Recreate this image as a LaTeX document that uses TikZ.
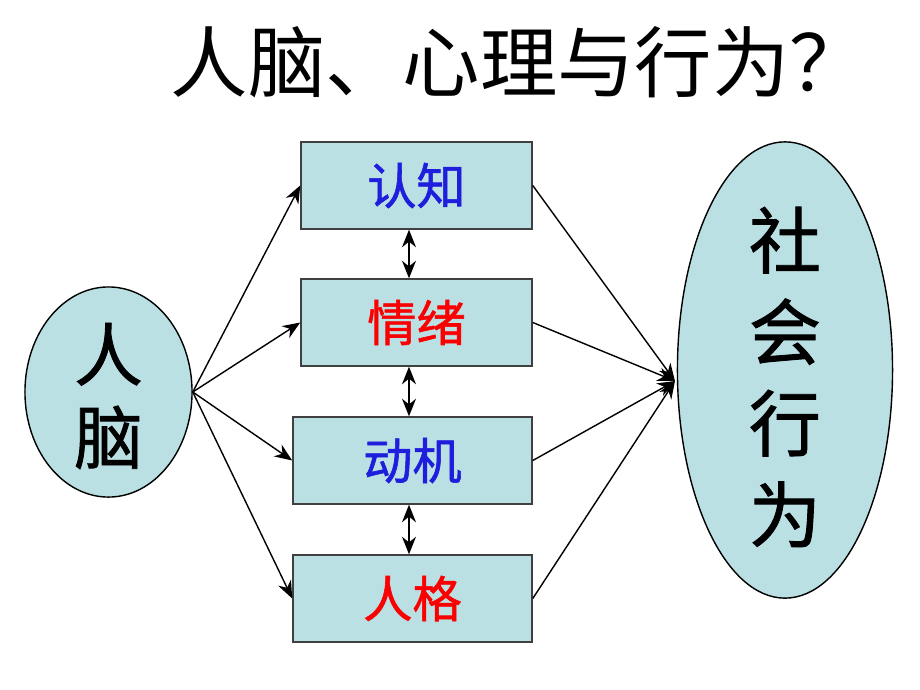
\documentclass[tikz,border=0pt]{standalone}
\usepackage{fontspec}
\newfontfamily\cjk{Noto Sans CJK SC}
\newfontfamily\cjkm[FakeBold=1.2]{Noto Sans CJK SC}
\usetikzlibrary{shapes.geometric,arrows.meta}
\definecolor{boxfill}{RGB}{187,224,227}
\definecolor{txtblue}{RGB}{30,30,220}
\definecolor{txtred}{RGB}{250,0,0}
\tikzset{
  enode/.style = {ellipse, draw=black, fill=boxfill, inner sep=0pt},
  etext/.style = {align=center, inner sep=0pt},
  knode/.style = {rectangle, draw=black!75, fill=boxfill, inner sep=0pt, minimum height=0.87cm, font=\cjkm\fontsize{14}{16}\selectfont},
  conn/.style = {draw=black, line width=0.4pt, -{Stealth[length=5pt,width=4pt]}},
  dconn/.style = {conn, {Stealth[length=5pt,width=4pt]}-{Stealth[length=5pt,width=4pt]}}
}

\begin{document}
\begin{tikzpicture}[x=0.01cm, y=-0.01cm]
\useasboundingbox (0,0) rectangle (920,690);
\node [anchor=west, inner sep=0pt, font=\cjk\fontsize{22}{26}\selectfont] (title) at (170,62) {人脑、心理与行为？};

\node [enode, minimum width=1.67cm, minimum height=2.1cm,
       label={[etext, yshift=-0.04cm, font=\cjkm\fontsize{19.5}{23.6}\selectfont]center:人\\脑}] (RN) at (108.5,392) {};
\node [enode, minimum width=2.15cm, minimum height=4.56cm,
       label={[etext, yshift=-0.07cm, font=\cjkm\fontsize{20.5}{26}\selectfont]center:社\\会\\行\\为}] (SB) at (785,370) {};

\node [knode, minimum width=2.31cm, text=txtblue] (K1) at (416.5,185.5) {认知};
\node [knode, minimum width=2.31cm, text=txtred]  (K2) at (416.5,322.5) {情绪};
\node [knode, minimum width=2.39cm, text=txtblue] (K3) at (412.5,460.5) {动机};
\node [knode, minimum width=2.39cm, text=txtred]  (K4) at (412.5,598.5) {人格};

\coordinate (mid) at (409,0);
\coordinate (tip) at (675,381);

% brain to the four boxes
\foreach \k in {K1,K2,K3,K4}
  \draw [conn] (RN.east) -- (\k.west);

% boxes to social behaviour
\foreach \k in {K1,K2,K3,K4}
  \draw [conn] (\k.east) -- (tip);

% between the boxes
\draw [dconn] (K1.south -| mid) -- (K2.north -| mid);
\draw [dconn] (K2.south -| mid) -- (K3.north -| mid);
\draw [dconn] (K3.south -| mid) -- (K4.north -| mid);
\end{tikzpicture}
\end{document}
